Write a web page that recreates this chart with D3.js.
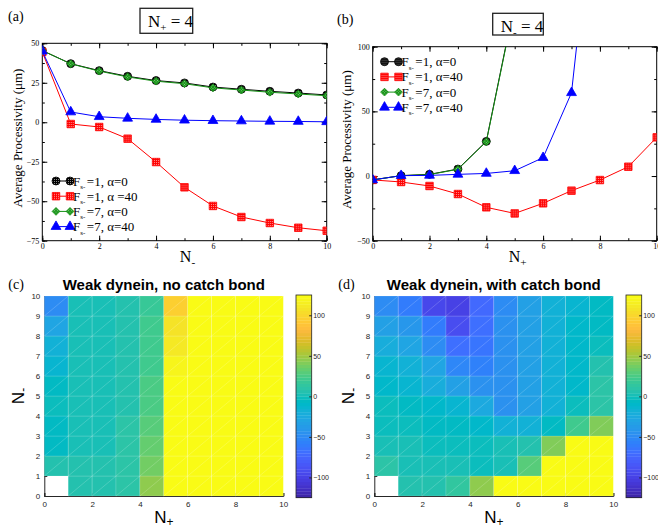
<!DOCTYPE html>
<meta charset="utf-8">
<style>
  body { margin: 0; background: #fff; }
  svg { display: block; }
</style>
<body>
<script src="https://d3js.org/d3.v7.min.js"></script>
<script>
// ===== data =====
const nVals = [0, 1, 2, 3, 4, 5, 6, 7, 8, 9, 10];

// (a) N+ = 4, varying N-
const aBlack = [45.4, 37.1, 32.7, 29.1, 26.4, 24.9, 22.3, 20.9, 19.6, 18.5, 17.3];
const aRed   = [44.5, -1.1, -3.0, -10.4, -25.2, -41.2, -53.0, -60.0, -63.8, -66.8, -68.7];
const aGreen = [45.4, 37.0, 32.4, 28.7, 26.0, 24.4, 21.8, 20.4, 19.0, 17.9, 16.8];
const aBlue  = [45.0, 6.5, 3.5, 2.5, 1.8, 1.3, 1.0, 0.8, 0.6, 0.5, 0.3];

// (b) N- = 4, varying N+ (curves leave the frame above 100)
const bBlack = [-3.0, 0.3, 1.3, 5.4, 26.8, 134];
const bRed   = [-3.0, -4.6, -7.7, -13.9, -24.2, -28.9, -21.1, -11.3, -3.1, 7.2, 29.9];
const bGreen = [-3.0, 0.3, 1.1, 5.2, 26.5, 133];
const bBlue  = [-3.0, 0.3, 0.5, 1.3, 2.0, 4.1, 14.2, 64.4, 264];

const legA = ['=1, \u03b1=0', '=1, \u03b1 =40', '=7, \u03b1=0', '=7, \u03b1=40'];
const legB = ['=1, \u03b1=0', '=1, \u03b1=40', '=7, \u03b1=0', '=7, \u03b1=40'];

const aYTicks = [-75, -50, -25, 0, 25, 50];
const bYTicks = [-50, 0, 50, 100];
const xTicks = [0, 2, 4, 6, 8, 10];

// (c)/(d) heat maps, rows N- = 0..9, columns N+ = 0..9 (null = no motors)
const heatC = [
  [null, 6, 6, 10, 45, 160, 210, 260, 300, 340],
  [6, 6, 6, 10, 37, 150, 200, 250, 290, 330],
  [-4, 0, 3, 8, 33, 142, 190, 240, 280, 320],
  [-4, 0, 3, 8, 29, 138, 185, 230, 270, 310],
  [-3, 0.3, 1.3, 5.4, 26.8, 134, 180, 225, 265, 300],
  [-6, 0, 2, 7, 25, 128, 175, 220, 260, 295],
  [-12, 0, 2, 6, 22.5, 118, 170, 215, 255, 290],
  [-16, 0, 2, 6, 21, 113, 165, 210, 250, 285],
  [-28, 0, 2, 4, 19.6, 107, 160, 205, 245, 280],
  [-50, 0, 2, 4, 18.5, 95, 155, 200, 240, 275]
];
const heatD = [
  [null, 6, 6, 12, 45, 160, 210, 260, 300, 340],
  [8, 1, 0, 0, -1, 2, 30, 150, 200, 250],
  [2, 0, -1, -2, -3, 0, 6, 40, 150, 200],
  [-2, -2, -4, -6, -10, -18, -16, -6, 20, 42],
  [-3, -5, -8, -14, -24, -45, -32, -16, -3, 10],
  [-8, -12, -20, -32, -45, -46, -32, -16, -8, 8],
  [-12, -16, -30, -52, -55, -46, -32, -16, -10, 4],
  [-20, -30, -50, -70, -63, -46, -32, -16, -10, -2],
  [-34, -42, -62, -92, -68, -46, -32, -16, -10, -4],
  [-50, -61, -97, -98, -72, -48, -32, -16, -12, -5]
];
const cbTicks = [-100, -50, 0, 50, 100];

// MATLAB parula(64)
const parulaRGB = [
 [0.2422,0.1504,0.6603],[0.2504,0.1650,0.7076],[0.2578,0.1818,0.7511],[0.2647,0.1978,0.7952],
 [0.2706,0.2147,0.8364],[0.2751,0.2342,0.8710],[0.2783,0.2559,0.8991],[0.2803,0.2782,0.9221],
 [0.2813,0.3006,0.9414],[0.2810,0.3228,0.9579],[0.2795,0.3447,0.9717],[0.2760,0.3667,0.9829],
 [0.2699,0.3892,0.9906],[0.2602,0.4123,0.9952],[0.2440,0.4358,0.9988],[0.2206,0.4603,0.9973],
 [0.1963,0.4847,0.9892],[0.1834,0.5074,0.9798],[0.1786,0.5289,0.9682],[0.1764,0.5499,0.9520],
 [0.1687,0.5703,0.9359],[0.1540,0.5902,0.9218],[0.1460,0.6091,0.9079],[0.1380,0.6276,0.8973],
 [0.1248,0.6459,0.8883],[0.1113,0.6635,0.8763],[0.0952,0.6798,0.8598],[0.0689,0.6948,0.8394],
 [0.0297,0.7082,0.8163],[0.0036,0.7203,0.7917],[0.0067,0.7312,0.7660],[0.0433,0.7411,0.7394],
 [0.0964,0.7500,0.7120],[0.1408,0.7584,0.6842],[0.1717,0.7670,0.6554],[0.1938,0.7758,0.6251],
 [0.2161,0.7843,0.5923],[0.2470,0.7918,0.5567],[0.2906,0.7973,0.5188],[0.3406,0.8008,0.4789],
 [0.3909,0.8029,0.4354],[0.4456,0.8024,0.3909],[0.5044,0.7993,0.3480],[0.5616,0.7942,0.3045],
 [0.6174,0.7876,0.2612],[0.6720,0.7793,0.2227],[0.7242,0.7698,0.1910],[0.7738,0.7598,0.1646],
 [0.8203,0.7498,0.1535],[0.8634,0.7406,0.1596],[0.9035,0.7330,0.1774],[0.9393,0.7288,0.2100],
 [0.9728,0.7298,0.2394],[0.9956,0.7434,0.2371],[0.9970,0.7659,0.2199],[0.9952,0.7893,0.2028],
 [0.9892,0.8136,0.1885],[0.9786,0.8386,0.1766],[0.9676,0.8639,0.1643],[0.9610,0.8890,0.1537],
 [0.9597,0.9135,0.1423],[0.9628,0.9373,0.1265],[0.9691,0.9606,0.1064],[0.9769,0.9839,0.0805]
];
const parula = parulaRGB.map(c => d3.rgb(c[0] * 255, c[1] * 255, c[2] * 255).formatHex());

const SERIF = '"Liberation Serif", "DejaVu Serif", serif';
const SANS = '"Liberation Sans", Arial, sans-serif';

const svg = d3.select('body').append('svg')
  .attr('width', 658).attr('height', 529);

// ===== marker fill patterns (grace-style dotted fills) =====
const defs = svg.append('defs');
function dotPattern(id, base, dot) {
  const p = defs.append('pattern').attr('id', id)
    .attr('width', 2).attr('height', 2).attr('patternUnits', 'userSpaceOnUse');
  p.append('rect').attr('width', 2).attr('height', 2).attr('fill', base);
  p.append('rect').attr('width', 1).attr('height', 1).attr('fill', dot);
}
dotPattern('pK', '#000', '#888');
dotPattern('pR', '#ff0000', '#ff9090');
dotPattern('pG', '#138f13', '#7fd07f');

const styles = [
  { color: '#000', fill: 'url(#pK)', sym: d3.symbolCircle, size: 50, rot: 0 },
  { color: '#ff0000', fill: 'url(#pR)', sym: d3.symbolSquare, size: 56, rot: 0 },
  { color: '#138f13', fill: 'url(#pG)', sym: d3.symbolSquare, size: 30, rot: 45 },
  { color: '#0000ff', fill: '#0000ff', sym: d3.symbolTriangle, size: 42, rot: 0 }
];

// subscripted "N" label
function nLabel(g, x, y, sub, size, family, subDy) {
  const t = g.append('text').attr('x', x).attr('y', y)
    .attr('font-family', family).attr('font-size', size)
    .attr('text-anchor', 'middle');
  t.append('tspan').text('N');
  t.append('tspan').attr('dy', subDy == null ? size * 0.3 : subDy)
    .attr('font-size', size * 0.7).text(sub);
  return t;
}

// ===== line panels (a) and (b) =====
function linePanel(o) {
  const g = svg.append('g');
  const x = d3.scaleLinear().domain([0, 10]).range([o.left, o.right]);
  const y = d3.scaleLinear().domain(o.ydom).range([o.bottom, o.top]);
  const clipId = 'clip' + o.id;
  defs.append('clipPath').attr('id', clipId).append('rect')
    .attr('x', o.left).attr('y', o.top)
    .attr('width', o.right - o.left).attr('height', o.bottom - o.top);

  // axes with inward ticks on all four sides
  const yMinor = d3.range(o.ydom[0], o.ydom[1] + 0.01, o.yStep / 2);
  const xMinor = d3.range(0, 11, 1);
  const axes = [
    [d3.axisBottom(x).tickValues(xMinor).tickSize(-2.5).tickFormat(''), `translate(0,${o.bottom})`],
    [d3.axisBottom(x).tickValues(xTicks).tickSize(-5).tickPadding(3), `translate(0,${o.bottom})`],
    [d3.axisTop(x).tickValues(xMinor).tickSize(-2.5).tickFormat(''), `translate(0,${o.top})`],
    [d3.axisTop(x).tickValues(xTicks).tickSize(-5).tickFormat(''), `translate(0,${o.top})`],
    [d3.axisLeft(y).tickValues(yMinor).tickSize(-2.5).tickFormat(''), `translate(${o.left},0)`],
    [d3.axisLeft(y).tickValues(o.yTicks).tickSize(-5).tickPadding(3), `translate(${o.left},0)`],
    [d3.axisRight(y).tickValues(yMinor).tickSize(-2.5).tickFormat(''), `translate(${o.right},0)`],
    [d3.axisRight(y).tickValues(o.yTicks).tickSize(-5).tickFormat(''), `translate(${o.right},0)`]
  ];
  axes.forEach(([ax, tr]) => {
    const a = g.append('g').attr('transform', tr).call(ax);
    a.select('.domain').remove();
    a.selectAll('line').attr('stroke', '#000');
    a.selectAll('text').attr('font-family', SERIF).attr('font-size', 8).attr('fill', '#000');
  });
  g.append('rect')
    .attr('x', o.left).attr('y', o.top)
    .attr('width', o.right - o.left).attr('height', o.bottom - o.top)
    .attr('fill', 'none').attr('stroke', '#000').attr('stroke-width', 1);

  // series
  const plot = g.append('g').attr('clip-path', `url(#${clipId})`);
  o.series.forEach((vals, i) => {
    const st = styles[i];
    const pts = vals.map((v, k) => [nVals[k], v]);
    plot.append('path').datum(pts)
      .attr('fill', 'none').attr('stroke', st.color).attr('stroke-width', 1)
      .attr('d', d3.line().x(d => x(d[0])).y(d => y(d[1])));
    plot.selectAll(null).data(pts.filter(d => d[1] <= o.ydom[1] + 2))
      .enter().append('path')
      .attr('transform', d => `translate(${x(d[0])},${y(d[1])}) rotate(${st.rot})`)
      .attr('d', d3.symbol().type(st.sym).size(st.size))
      .attr('fill', st.fill).attr('stroke', st.color).attr('stroke-width', 0.8);
  });

  // legend
  o.legend.forEach((txt, i) => {
    const st = styles[i];
    const ly = o.legY + i * 15.2;
    g.append('line').attr('x1', o.legX).attr('x2', o.legX + 16)
      .attr('y1', ly).attr('y2', ly).attr('stroke', st.color).attr('stroke-width', 1);
    [o.legX + 1, o.legX + 15].forEach(mx => {
      g.append('path').attr('transform', `translate(${mx},${ly}) rotate(${st.rot})`)
        .attr('d', d3.symbol().type(st.sym).size(st.size))
        .attr('fill', st.fill).attr('stroke', st.color).attr('stroke-width', 0.8);
    });
    const t = g.append('text').attr('x', o.legX + 18).attr('y', ly + 4.5)
      .attr('font-family', SERIF).attr('font-size', 13);
    t.append('tspan').text('F');
    t.append('tspan').attr('dy', 3.5).attr('font-size', 7).text('s-');
    t.append('tspan').attr('dy', -3.5).attr('dx', 1.5).text(txt);
  });

  // labels
  g.append('text')
    .attr('transform', `translate(${o.yLabX},${(o.top + o.bottom) / 2 - 4}) rotate(-90)`)
    .attr('text-anchor', 'middle').attr('font-family', SERIF).attr('font-size', 13)
    .text('Average Processivity (\u03bcm)');
  nLabel(g, (o.left + o.right) / 2 + 3, 262, o.xSub, 16, SERIF, 4);
  g.append('text').attr('x', o.tagX).attr('y', o.tagY)
    .attr('font-family', SERIF).attr('font-size', 14).text(o.tag);

  // boxed title
  g.append('rect').attr('x', o.box[0]).attr('y', o.box[1])
    .attr('width', o.box[2]).attr('height', o.box[3])
    .attr('fill', '#fff').attr('stroke', '#222').attr('stroke-width', 1.3);
  const tt = g.append('text').attr('x', o.box[0] + 8).attr('y', o.box[1] + 18.5)
    .attr('font-family', SERIF).attr('font-size', 17);
  tt.append('tspan').text('N');
  tt.append('tspan').attr('dy', 4).attr('font-size', 11).text(o.boxSub);
  tt.append('tspan').attr('dy', -4).text(' = 4');
}

linePanel({
  id: 'a', left: 42.3, right: 326.7, top: 43.3, bottom: 240.7,
  ydom: [-75, 50], yTicks: aYTicks, yStep: 25,
  series: [aBlack, aRed, aGreen, aBlue], legend: legA,
  legX: 55, legY: 181, yLabX: 22, xSub: '-', tag: '(a)', tagX: 8, tagY: 21,
  box: [140, 8.3, 52.7, 25], boxSub: '+'
});
linePanel({
  id: 'b', left: 372.7, right: 656.7, top: 46.7, bottom: 240.7,
  ydom: [-50, 100], yTicks: bYTicks, yStep: 50,
  series: [bBlack, bRed, bGreen, bBlue], legend: legB,
  legX: 383.5, legY: 61.7, yLabX: 351, xSub: '+', tag: '(b)', tagX: 337, tagY: 24,
  box: [492.7, 13.3, 50.6, 21.7], boxSub: '-'
});

// ===== heat map panels (c) and (d) =====
const color = d3.scaleQuantize().domain([-125, 125]).range(parula);

function heatPanel(o) {
  const g = svg.append('g');
  const x = d3.scaleLinear().domain([0, 10]).range([o.left, o.left + 239]);
  const y = d3.scaleLinear().domain([0, 10]).range([496, 296]);

  // axes underneath the cells
  const xa = g.append('g').attr('transform', 'translate(0,496)')
    .call(d3.axisBottom(x).tickValues(xTicks).tickSize(-3).tickPadding(5));
  const ya = g.append('g').attr('transform', `translate(${o.left},0)`)
    .call(d3.axisLeft(y).tickValues(nVals).tickSize(-3).tickPadding(4));
  [xa, ya].forEach(a => {
    a.select('.domain').attr('stroke', '#262626');
    a.selectAll('line').attr('stroke', '#262626');
    a.selectAll('text').attr('font-family', SANS).attr('font-size', 8).attr('fill', '#262626');
  });

  const cells = [];
  o.data.forEach((row, j) => row.forEach((v, i) => { if (v !== null) cells.push({ i, j, v }); }));
  g.selectAll(null).data(cells).enter().append('rect')
    .attr('x', d => x(d.i)).attr('y', d => y(d.j + 1))
    .attr('width', d => x(d.i + 1) - x(d.i)).attr('height', d => y(d.j) - y(d.j + 1))
    .attr('fill', d => color(d.v))
    .attr('stroke', 'rgba(255,255,255,0.18)').attr('stroke-width', 0.8);
  // faint triangulation diagonals of the rendered mesh
  g.selectAll(null).data(cells).enter().append('line')
    .attr('x1', d => x(d.i)).attr('y1', d => y(d.j))
    .attr('x2', d => x(d.i + 1)).attr('y2', d => y(d.j + 1))
    .attr('stroke', 'rgba(255,255,255,0.3)').attr('stroke-width', 0.6);

  // colour bar
  const cb = d3.scaleLinear().domain([-125, 125]).range([497.7, 295]);
  const steps = parula.map((c, k) => ({ c, lo: -125 + k * 250 / 64, hi: -125 + (k + 1) * 250 / 64 }));
  g.selectAll(null).data(steps).enter().append('rect')
    .attr('x', o.cbX).attr('width', 15.7)
    .attr('y', d => cb(d.hi)).attr('height', d => cb(d.lo) - cb(d.hi) + 0.3)
    .attr('fill', d => d.c);
  g.append('rect').attr('x', o.cbX).attr('y', 295).attr('width', 15.7).attr('height', 202.7)
    .attr('fill', 'none').attr('stroke', '#262626').attr('stroke-width', 0.8);
  const ca = g.append('g').attr('transform', `translate(${o.cbX + 15.7},0)`)
    .call(d3.axisRight(cb).tickValues(cbTicks).tickSize(-2.5).tickPadding(1.5));
  ca.select('.domain').remove();
  ca.selectAll('line').attr('stroke', '#262626');
  ca.selectAll('text').attr('font-family', SANS).attr('font-size', 7).attr('fill', '#262626');

  // title and labels
  g.append('text').attr('x', o.left + 119.5).attr('y', 289.5)
    .attr('text-anchor', 'middle').attr('font-family', SANS)
    .attr('font-size', 15).attr('font-weight', 'bold').text(o.title);
  g.append('text').attr('x', o.left - 36).attr('y', 289)
    .attr('font-family', SERIF).attr('font-size', 14).text(o.tag);
  nLabel(g, o.left + 119.5, 523, '+', 17, SANS, 3);
  const yl = nLabel(g, 0, 0, '-', 17, SANS, 3);
  yl.attr('transform', `translate(${o.left - 20},396) rotate(-90)`);
}

heatPanel({ data: heatC, left: 44.3, cbX: 296, title: 'Weak dynein, no catch bond', tag: '(c)' });
heatPanel({ data: heatD, left: 374.3, cbX: 626, title: 'Weak dynein, with catch bond', tag: '(d)' });
</script>
